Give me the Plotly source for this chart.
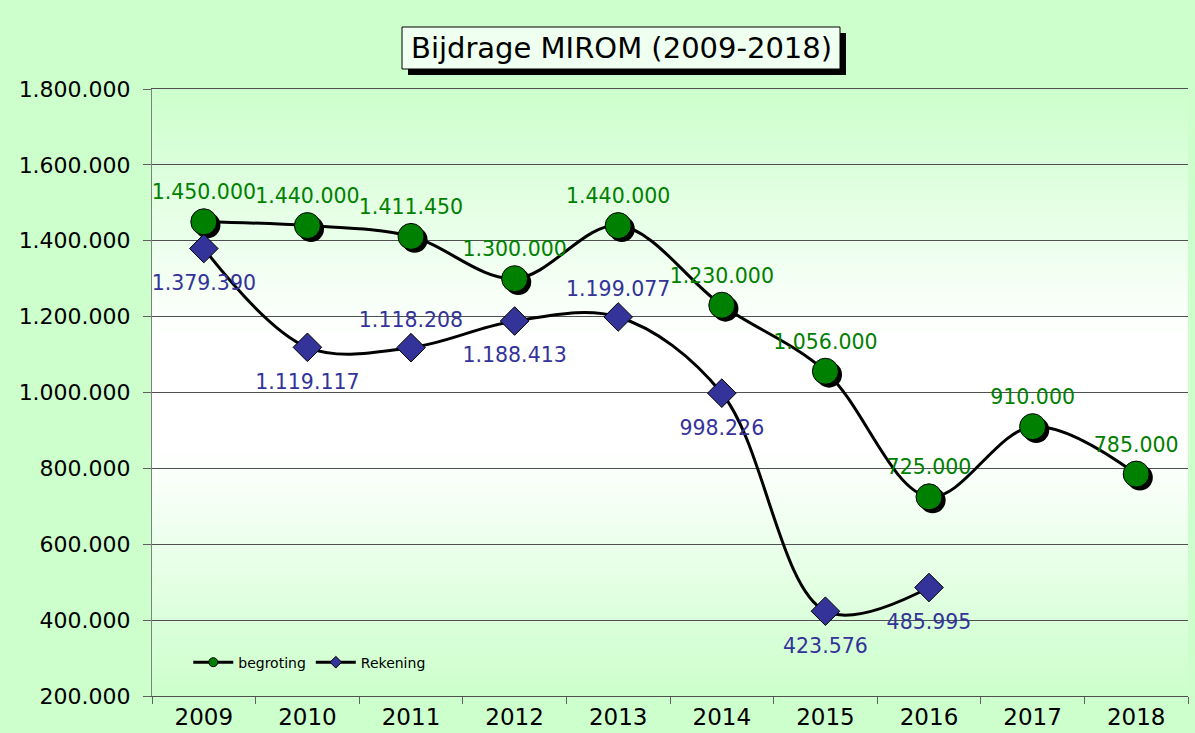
import plotly.graph_objects as go

years = ["2009", "2010", "2011", "2012", "2013", "2014", "2015", "2016", "2017", "2018"]
begroting = [1450000, 1440000, 1411450, 1300000, 1440000, 1230000, 1056000, 725000, 910000, 785000]
rekening = [1379390, 1119117, 1118208, 1188413, 1199077, 998226, 423576, 485995]
y_ticks = [200000, 400000, 600000, 800000, 1000000, 1200000, 1400000, 1600000, 1800000]

title_text = "Bijdrage MIROM (2009-2018)"
FONT = "DejaVu Sans"

def fmt(v):
    return f"{v:,}".replace(",", ".")

xb = list(range(len(begroting)))
xr = list(range(len(rekening)))
rek_pos = ["bottom center", "bottom center", "top center", "bottom center", "top center",
           "bottom center", "bottom center", "bottom center"]
# invisible marker sizes used only to space the labels from the points
rek_label_pad = [40 if p.startswith("bottom") else 24 for p in rek_pos]

fig = go.Figure()

# shadow for circle markers
fig.add_trace(go.Scatter(
    x=[v + 0.035 for v in xb], y=[v - 9000 for v in begroting], mode="markers",
    marker=dict(symbol="circle", size=26, color="black"),
    showlegend=False, hoverinfo="skip", cliponaxis=False))

fig.add_trace(go.Scatter(
    x=xr, y=rekening, mode="lines+markers", name="Rekening",
    line=dict(color="black", width=3, shape="spline", smoothing=1.0),
    marker=dict(symbol="diamond", size=22, color="#333399", line=dict(color="black", width=1)),
    showlegend=False, cliponaxis=False))

# Rekening labels
fig.add_trace(go.Scatter(
    x=xr, y=rekening, mode="markers+text",
    marker=dict(size=rek_label_pad, opacity=0),
    text=[fmt(v) for v in rekening], textposition=rek_pos,
    textfont=dict(family=FONT, size=20.5, color="#333399"),
    showlegend=False, hoverinfo="skip", cliponaxis=False))

fig.add_trace(go.Scatter(
    x=xb, y=begroting, mode="lines+markers+text", name="begroting",
    line=dict(color="black", width=3, shape="spline", smoothing=1.0),
    marker=dict(symbol="circle", size=26, color="#008000", line=dict(color="black", width=1)),
    text=[fmt(v) for v in begroting], textposition="top center",
    textfont=dict(family=FONT, size=20.5, color="#008000"),
    showlegend=False, cliponaxis=False))

# legend-only entries
fig.add_trace(go.Scatter(
    x=[None], y=[None], mode="lines+markers", name="begroting",
    line=dict(color="black", width=3),
    marker=dict(symbol="circle", size=9, color="#008000", line=dict(color="black", width=1))))
fig.add_trace(go.Scatter(
    x=[None], y=[None], mode="lines+markers", name="Rekening",
    line=dict(color="black", width=3),
    marker=dict(symbol="diamond", size=9, color="#333399", line=dict(color="black", width=1))))

# background gradient bands in plot area (green top/bottom, white middle)
shapes = []
n = 60
g0 = (0xCC, 0xFF, 0xCC)
for i in range(n):
    t0 = i / n
    t1 = (i + 1) / n
    tm = (t0 + t1) / 2
    w = 1 - abs(tm - 0.5) * 2
    w = min(1.0, w * 1.25)
    r = int(g0[0] + (255 - g0[0]) * w)
    b = int(g0[2] + (255 - g0[2]) * w)
    shapes.append(dict(type="rect", xref="x domain", yref="y domain",
                       x0=0, x1=1, y0=t0, y1=t1 + 0.002,
                       fillcolor=f"rgb({r},255,{b})", line=dict(width=0), layer="below"))

# title box with shadow
bx0, bx1 = (402 - 152) / 1036, (840 - 152) / 1036
by1, by0 = (696 - 27) / 607, (696 - 69) / 607
dx, dy = 6 / 1036, 6 / 607
shapes.append(dict(type="rect", xref="paper", yref="paper",
                   x0=bx0 + dx, x1=bx1 + dx, y0=by0 - dy, y1=by1 - dy,
                   fillcolor="black", line=dict(width=0)))
shapes.append(dict(type="rect", xref="paper", yref="paper",
                   x0=bx0, x1=bx1, y0=by0, y1=by1,
                   fillcolor="#effff0", line=dict(color="black", width=1)))

fig.update_layout(
    width=1195, height=733,
    margin=dict(l=152, r=7, t=89, b=37),
    paper_bgcolor="#ccffcc",
    plot_bgcolor="rgba(0,0,0,0)",
    separators=",.",
    font=dict(family=FONT, color="black"),
    shapes=shapes,
    annotations=[dict(text=title_text, xref="paper", yref="paper",
                      x=(bx0 + bx1) / 2, y=(by0 + by1) / 2, xanchor="center", yanchor="middle",
                      showarrow=False, font=dict(family=FONT, size=29, color="black"))],
    showlegend=True,
    legend=dict(orientation="h", x=0.035, y=0.055, xanchor="left", yanchor="middle",
                bgcolor="rgba(0,0,0,0)", font=dict(family=FONT, size=14, color="black"),
                itemwidth=40, tracegroupgap=0),
    xaxis=dict(range=[-0.5, 9.5], tickvals=list(range(len(years))), ticktext=years,
               ticks="", showgrid=False, zeroline=False, automargin=False,
               showline=True, linecolor="#505050", linewidth=1, mirror=True,
               tickfont=dict(family=FONT, size=23, color="black"),
               minor=dict(tickvals=[i - 0.5 for i in range(len(years) + 1)], ticks="outside",
                          ticklen=7, tickcolor="#606060", showgrid=False)),
    yaxis=dict(range=[200000, 1800000], tickvals=y_ticks, tickformat=",d",
               ticks="outside", ticklen=8, tickcolor="#606060", automargin=False,
               ticklabelstandoff=8,
               showgrid=True, gridcolor="#505050", gridwidth=1, zeroline=False,
               showline=True, linecolor="#808080", linewidth=1,
               tickfont=dict(family=FONT, size=22, color="black")),
)

fig.write_html("out.html", config={"displayModeBar": False},
               post_script="document.body.style.margin='0';document.body.style.overflow='hidden';")
